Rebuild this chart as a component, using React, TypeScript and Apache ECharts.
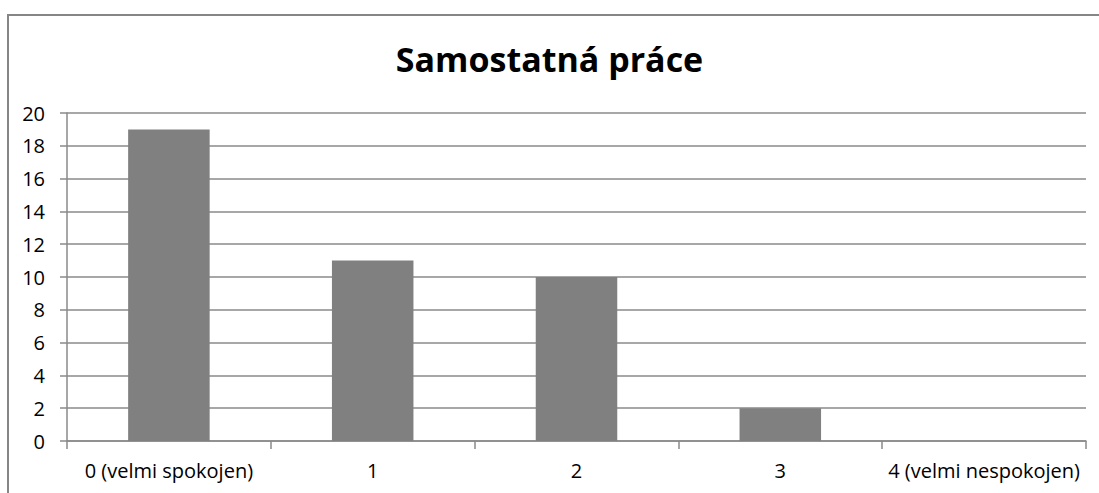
import React, { useEffect, useRef } from "react";
import * as echarts from "echarts";

const title = "Samostatná práce";
const categories = ["0 (velmi spokojen)", "1", "2", "3", "4 (velmi nespokojen)"];
const values = [19, 11, 10, 2, 0];
const yMin = 0;
const yMax = 20;
const yInterval = 2;

export default function App() {
  const ref = useRef<HTMLDivElement>(null);
  useEffect(() => {
    const chart = echarts.init(ref.current!, null, { renderer: "svg" });
    const grey = "#8a8a8a";
    chart.setOption({
      animation: false,
      backgroundColor: "#ffffff",
      title: {
        text: title,
        left: "center",
        top: 37,
        textStyle: { fontFamily: "Open Sans", fontWeight: "bold", fontSize: 34, color: "#000" },
      },
      graphic: [
        {
          type: "polyline",
          shape: { points: [[8, 493], [8, 15], [1099, 15]] },
          style: { stroke: "#868686", lineWidth: 2, fill: "none" },
        },
      ],
      grid: { left: 67, right: 13, top: 113, bottom: 52 },
      xAxis: {
        type: "category",
        data: categories,
        axisLine: { show: true, lineStyle: { color: grey, width: 1.5 } },
        axisTick: { show: true, interval: 0, length: 8, lineStyle: { color: grey, width: 1.5 } },
        axisLabel: { interval: 0, hideOverlap: false, margin: 19, fontFamily: "Open Sans", fontSize: 20, color: "#000" },
      },
      yAxis: {
        type: "value",
        min: yMin,
        max: yMax,
        interval: yInterval,
        axisLine: { show: true, lineStyle: { color: grey, width: 1.5 } },
        axisTick: { show: true, length: 7, lineStyle: { color: grey, width: 1.5 } },
        splitLine: { show: true, lineStyle: { color: grey, width: 1.5 } },
        axisLabel: { margin: 22, fontFamily: "Open Sans", fontSize: 20, color: "#000" },
      },
      series: [
        {
          type: "bar",
          data: values,
          barWidth: "40%",
          itemStyle: { color: "#808080" },
        },
      ],
    });
    return () => chart.dispose();
  }, []);
  return <div ref={ref} style={{ width: 1099, height: 493, position: "absolute", left: 0, top: 0 }} />;
}
